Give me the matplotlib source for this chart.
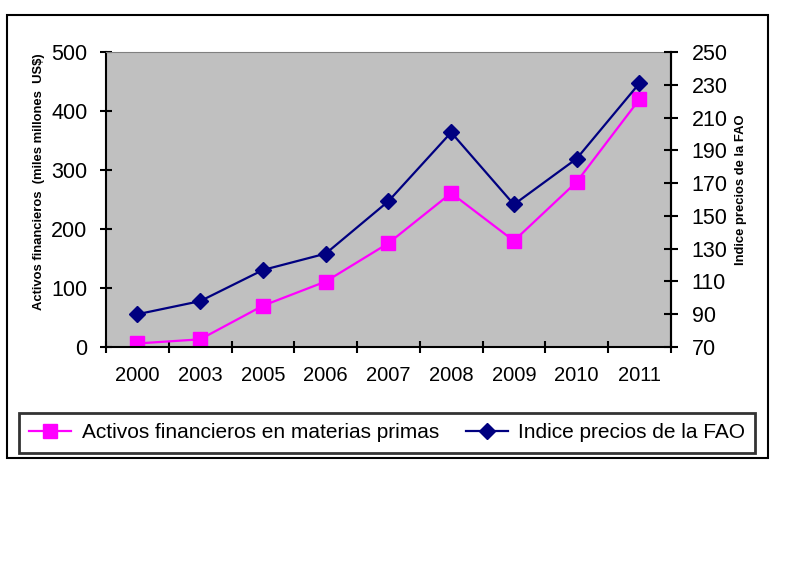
import matplotlib.pyplot as plt
from matplotlib.patches import Rectangle

plt.rcParams['font.family'] = ['Liberation Sans', 'DejaVu Sans']

years = ['2000', '2003', '2005', '2006', '2007', '2008', '2009', '2010', '2011']
activos = [6, 13, 70, 111, 176, 261, 180, 280, 420]
fao = [90, 98, 117, 127, 159, 201, 157, 185, 231]

fig = plt.figure(figsize=(8, 5.67), dpi=100)

# outer frame
fig.patches.append(Rectangle((0.009, 0.192), 0.951, 0.781, transform=fig.transFigure,
                             fill=False, edgecolor='black', linewidth=1.5))

ax = fig.add_axes([0.1325, 0.388, 0.706, 0.520])
ax.set_facecolor('#C0C0C0')
x = list(range(len(years)))

l1, = ax.plot(x, activos, color='#FF00FF', linewidth=1.6, marker='s', markersize=10,
              label='Activos financieros en materias primas')
ax.set_ylim(0, 500)
ax.set_yticks(range(0, 501, 100))
ax.set_xlim(-0.5, len(years) - 0.5)
ax.set_xticks([i - 0.5 for i in range(len(years) + 1)])
ax.set_xticklabels([])
ax.set_xticks(x, minor=True)
ax.set_xticklabels(years, minor=True)
ax.tick_params(axis='x', which='major', direction='inout', length=9, width=1.5)
ax.tick_params(axis='x', which='minor', length=0, pad=14, labelsize=14.5)
ax.tick_params(axis='y', direction='inout', length=9, width=1.5, pad=9, labelsize=15.5)
ax.spines['top'].set_color('#808080')
ax.spines['top'].set_linewidth(0.8)
for s in ['left', 'bottom', 'right']:
    ax.spines[s].set_linewidth(1.5)

ax2 = ax.twinx()
l2, = ax2.plot(x, fao, color='#000080', linewidth=1.6, marker='D', markersize=8,
               label='Indice precios de la FAO')
ax2.set_ylim(70, 250)
ax2.set_yticks(range(70, 251, 20))
ax2.tick_params(axis='y', direction='inout', length=10, width=1.5, pad=10, labelsize=15.5)
ax2.spines['top'].set_visible(False)
ax2.spines['right'].set_linewidth(1.5)
ax2.spines['left'].set_visible(False)
ax2.spines['bottom'].set_visible(False)

fig.text(0.049, 0.68, 'Activos financieros  (miles millones  US$)', rotation=90,
         ha='center', va='center', fontsize=9.4, fontweight='bold')
fig.text(0.926, 0.665, 'Indice precios de la FAO', rotation=90,
         ha='center', va='center', fontsize=9.4, fontweight='bold')

leg = fig.legend(handles=[l1, l2], loc='center', bbox_to_anchor=(0.484, 0.237),
                 ncol=2, fontsize=15, frameon=True, fancybox=False, edgecolor='black',
                 handlelength=2.0, columnspacing=1.3, handletextpad=0.5,
                 borderpad=0.5, borderaxespad=0)
leg.get_frame().set_linewidth(2)
leg.get_frame().set_facecolor('white')

fig.savefig('out.png', dpi=100)
